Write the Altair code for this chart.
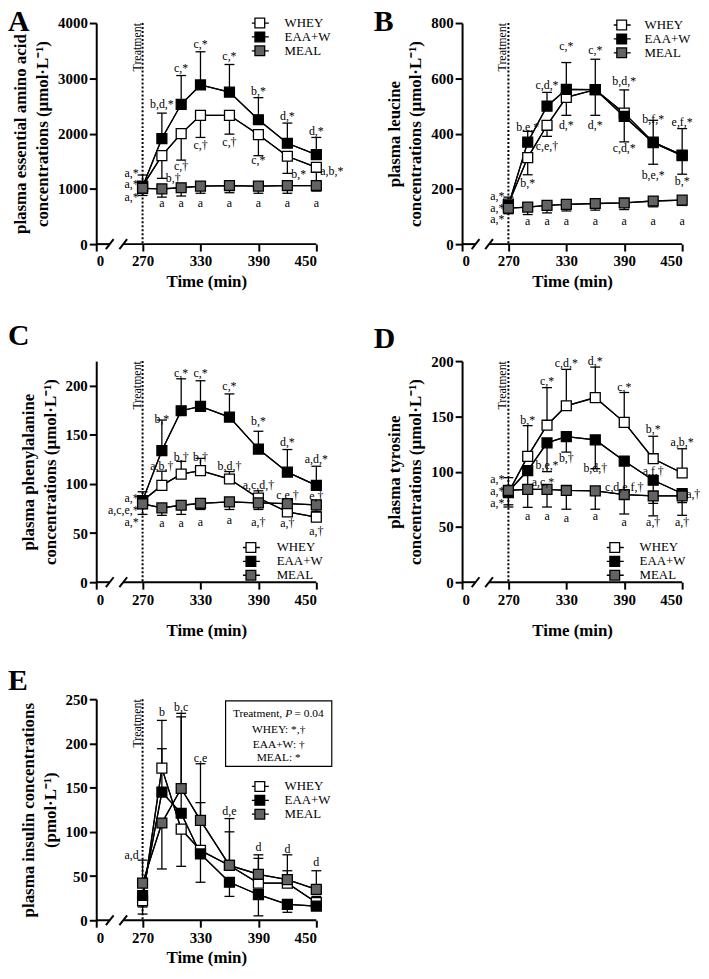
import altair as alt
import pandas as pd

FONT = "Liberation Serif"
TIMES = [270, 290, 310, 330, 360, 390, 420, 450]
SERIES = ["WHEY", "EAA+W", "MEAL"]
FILLS = ["white", "black", "#636363"]
X_TICKS = [222, 270, 330, 390, 450]      # 222 = position of "0" on the broken axis
AXIS_GAP = [236, 250]                     # broken-axis gap (x units)

# ---------------- Panel A: essential amino acids ----------------
a_whey = [1050, 1600, 2000, 2330, 2330, 1980, 1590, 1390]
a_whey_err = [1250, 1190, 1520, 1930, 1990, 1600, 1280, 1140]
a_eaa = [1040, 1910, 2530, 2880, 2750, 2250, 1825, 1620]
a_eaa_err = [950, 2370, 3050, 3480, 3250, 2650, 2190, 1930]
a_meal = [1010, 1000, 1020, 1050, 1060, 1050, 1060, 1060]
a_meal_err = [880, 850, 870, 920, 930, 920, 920, 960]
a_ann = [
    (270, 1290, "a,*", "r"), (270, 1091, "a,*", "r"), (270, 851, "a,*", "r"),
    (290, 2528, "b,d,*", "c"), (290, 1200, "b,†", "l"),
    (310, 3191, "c,*", "c"), (310, 1412, "c,†", "c"),
    (330, 3614, "c,*", "c"), (330, 1786, "c,†", "c"),
    (360, 3403, "c,*", "c"), (360, 1846, "c,†", "c"),
    (390, 2769, "b,*", "c"), (390, 1514, "c,*", "c"),
    (420, 2317, "d,*", "c"), (420, 1273, "b,*", "l"),
    (450, 2045, "d,*", "c"), (450, 1321, "a,b,*", "l"),
    (290, 736, "a", "c"), (310, 736, "a", "c"), (330, 736, "a", "c"),
    (360, 736, "a", "c"), (390, 736, "a", "c"), (420, 736, "a", "c"),
    (450, 736, "a", "c"),
]

# ---------------- Panel B: leucine ----------------
b_whey = [145, 313, 430, 531, 559, 474, 369, 322]
b_whey_err = [170, 251, 390, 466, 466, 558, 448, 418]
b_eaa = [140, 369, 499, 560, 559, 462, 367, 320]
b_eaa_err = [120, 408, 549, 657, 669, 370, 289, 253]
b_meal = [130, 134, 140, 144, 147, 149, 156, 159]
b_meal_err = [110, 107, 113, 120, 123, 125, 135, 140]
b_ann = [
    (270, 173, "a,*", "r"), (270, 131, "a,*", "r"), (270, 90, "a,*", "r"),
    (290, 425, "b.e,*", "c"), (290, 221, "b,*", "c"),
    (310, 575, "c,d,*", "c"), (310, 356, "c,e,†", "c"),
    (330, 716, "c,*", "c"), (330, 430, "d,*", "c"),
    (360, 704, "c,*", "c"), (360, 430, "d,*", "c"),
    (390, 591, "b,d,*", "c"), (390, 346, "c,d,*", "c"),
    (420, 454, "b,f,*", "c"), (420, 251, "b,e,*", "c"),
    (450, 442, "e,f,*", "c"), (450, 227, "b,*", "c"),
    (290, 84, "a", "c"), (310, 84, "a", "c"), (330, 84, "a", "c"),
    (360, 84, "a", "c"), (390, 84, "a", "c"), (420, 84, "a", "c"),
    (450, 84, "a", "c"),
]

# ---------------- Panel C: phenylalanine ----------------
c_whey = [83, 98.5, 110, 113.6, 105, 85.7, 71.6, 66.2]
c_whey_err = [92, 113, 123, 126, 112.6, 93, 78, 72]
c_eaa = [83, 134, 174.5, 179, 168, 135.5, 112, 98.5]
c_eaa_err = [75, 165, 207, 205, 191.6, 153.6, 135, 118]
c_meal = [79.7, 75.6, 78.3, 80.3, 81.7, 80.7, 80, 78.7]
c_meal_err = [69, 68, 69, 74, 74, 74, 73, 72]
c_ann = [
    (270, 85.7, "a,*", "r"), (270, 73.3, "a,c,e,*", "r"), (270, 61.5, "a,*", "r"),
    (290, 166.4, "b,*", "c"), (290, 118, "a,b,†", "c"), (290, 59.8, "a", "c"),
    (310, 212.8, "c,*", "c"), (310, 127, "b,†", "c"), (310, 59.8, "a", "c"),
    (330, 212.8, "c,*", "c"), (330, 127, "b,†", "c"), (330, 61.5, "a", "c"),
    (360, 200, "c,*", "c"), (360, 118, "b,d,†", "c"), (360, 63.2, "a", "c"),
    (390, 164, "b,*", "c"), (390, 99.2, "a,c,d,†", "c"), (390, 61.5, "a,†", "c"),
    (420, 142.2, "d,*", "c"), (420, 88.4, "c,e,†", "c"), (420, 60.2, "a,†", "c"),
    (450, 125.4, "a,d,*", "c"), (450, 87.7, "e,†", "c"), (450, 52.1, "a,†", "c"),
]

# ---------------- Panel D: tyrosine ----------------
d_whey = [81, 113.8, 142, 159.6, 167, 144.6, 111.7, 98.8]
d_whey_err = [94.6, 141.6, 176, 192.5, 194.6, 171.6, 132, 120.7]
d_eaa = [82, 101, 126, 131.7, 128.7, 109.6, 92.2, 80.2]
d_eaa_err = [70, 88, 100, 117.7, 102.7, 75.7, 71.3, 72]
d_meal = [83, 84, 84, 83, 82.6, 79.3, 78, 78]
d_meal_err = [68, 67.7, 68, 66, 66, 61.7, 60, 60.5]
d_ann = [
    (270, 93.7, "a,*", "r"), (270, 82.3, "a,*", "r"), (270, 71.3, "a,*", "r"),
    (290, 147, "b,*", "c"), (290, 90.7, "a,c,*", "l"), (290, 60.2, "a", "c"),
    (310, 182, "c,*", "c"), (310, 105.7, "b,e,*", "c"), (310, 60.2, "a", "c"),
    (330, 198, "c,d,*", "c"), (330, 112.3, "b,†", "c"), (330, 58.4, "a", "c"),
    (360, 200, "d,*", "c"), (360, 103.3, "b,d,†", "c"), (360, 60.2, "a", "c"),
    (390, 176.6, "c,*", "c"), (390, 86.2, "c,d,e,f,†", "c"), (390, 54.2, "a", "c"),
    (420, 138.6, "b,*", "c"), (420, 100.3, "a,f,†", "c"), (420, 54.2, "a,†", "c"),
    (450, 127.2, "a,b,*", "c"), (450, 79.3, "a,†", "l"), (450, 54.2, "a,†", "c"),
]

# ---------------- Panel E: insulin ----------------
e_whey = [22, 172, 103, 79, 62, 42, 42, 20]
e_whey_err = [7, 226, 61, 133, 100, 70, 56, 27]
e_eaa = [28, 145, 121, 75, 43, 29, 18, 16]
e_eaa_err = [15, 194, 230, 43, 27, 5, 9, 12]
e_meal = [42, 110, 149, 113, 62, 52, 46, 35]
e_meal_err = [68, 58, 234, 177, 115, 74, 74, 56]
e_ann = [
    (270, 73.7, "a,d", "r"), (290, 235, "b", "c"), (310, 241, "b,c", "c"),
    (330, 183, "c,e", "c"), (360, 123.4, "d,e", "c"), (390, 82.3, "d", "c"),
    (420, 80.5, "d", "c"), (450, 65.5, "d", "c"),
]
e_box_lines = ["WHEY: *,†", "EAA+W: †", "MEAL: *"]

LEG_PATH = "M-1.3,0H-0.7M0.7,0H1.3M-0.7,-0.7H0.7V0.7H-0.7Z"
W, H = 222, 223


def panel(letter, vals, errs, ann, ymax, yticks, ytitle, leg, letter_y, xtp, extra=None):
    rows = []
    for s, v, e in zip(SERIES, vals, errs):
        for t, vv, ee in zip(TIMES, v, e):
            rows.append({"time": t, "value": vv, "err": ee, "series": s})
    df = pd.DataFrame(rows)
    adf = pd.DataFrame(ann, columns=["time", "y", "text", "al"])

    xs = alt.Scale(domain=[222, 450], nice=False, zero=False)
    ys = alt.Scale(domain=[0, ymax], nice=False, zero=True)
    xax = alt.Axis(values=X_TICKS, labelExpr="datum.value == 222 ? '0' : datum.label",
                   domain=False, tickWidth=2, tickSize=7, tickColor="black",
                   labelFont=FONT, labelFontSize=15, labelFontWeight="bold", labelColor="black",
                   labelPadding=3, labelOverlap=False, titleFont=FONT, titleFontSize=17,
                   titleFontWeight="bold", titleColor="black", titlePadding=xtp, grid=False)
    yax = alt.Axis(values=yticks, format="d", domainWidth=2, domainColor="black", tickWidth=2,
                   tickSize=7, tickColor="black", labelFont=FONT, labelFontSize=15,
                   labelFontWeight="bold", labelColor="black", labelPadding=2, titleFont=FONT,
                   titleFontSize=17, titleFontWeight="bold", titleColor="black",
                   titleLineHeight=22, titlePadding=6, grid=False)
    XT = "Time (min)"

    def xf(field):
        return alt.X(field, scale=xs, axis=xax, title=XT)

    def xd(v):
        return alt.X(datum=v, type="quantitative", scale=xs, axis=xax, title=XT)

    def yf(field):
        return alt.Y(field, scale=ys, axis=yax, title=ytitle)

    def yd(v):
        return alt.Y(datum=v, type="quantitative", scale=ys, axis=yax, title=ytitle)

    base = alt.Chart(df)
    one = alt.Chart(pd.DataFrame({"k": [0]}))

    layers = []
    layers.append(base.mark_line(color="black", strokeWidth=1.3).encode(
        x=xf("time:Q"), y=yf("value:Q"), detail="series:N", order="time:Q"))
    layers.append(one.mark_rule(strokeDash=[2, 2], strokeWidth=2, color="black").encode(
        x=xd(270), y=alt.value(0), y2=alt.value(H)))
    seg = pd.DataFrame({"x0": [222, AXIS_GAP[1]], "x1": [AXIS_GAP[0], 450]})
    layers.append(alt.Chart(seg).mark_rule(strokeWidth=2, color="black").encode(
        x=xf("x0:Q"), x2="x1:Q", y=alt.value(H)))
    sl = pd.DataFrame({"x0": [AXIS_GAP[0] - 4, AXIS_GAP[1] - 4], "x1": [AXIS_GAP[0] + 4, AXIS_GAP[1] + 4]})
    layers.append(alt.Chart(sl).mark_rule(strokeWidth=2, color="black").encode(
        x=xf("x0:Q"), x2="x1:Q", y=alt.value(H + 5), y2=alt.value(H - 5)))
    layers.append(base.mark_rule(strokeWidth=1.3, color="black").encode(
        x=xf("time:Q"), y=yf("value:Q"), y2="err:Q"))
    layers.append(base.mark_tick(orient="horizontal", size=10, thickness=1.3, color="black",
                                 opacity=1).encode(x=xf("time:Q"), y=yf("err:Q")))
    layers.append(base.mark_line(color="black", strokeWidth=1.3).encode(
        x=xf("time:Q"), y=yf("value:Q"), detail="series:N", order="time:Q"))
    layers.append(base.mark_point(shape="square", filled=True, size=100, stroke="black",
                                  strokeWidth=1.3, opacity=1).encode(
        x=xf("time:Q"), y=yf("value:Q"),
        fill=alt.Fill("series:N", scale=alt.Scale(domain=SERIES, range=FILLS),
                      legend=alt.Legend(orient="none", legendX=leg[0], legendY=leg[1], title=None,
                                        direction="vertical", symbolType=LEG_PATH, symbolSize=196,
                                        symbolStrokeColor="black", symbolStrokeWidth=1.3,
                                        symbolOpacity=1, labelFont=FONT, labelFontSize=13,
                                        labelColor="black", labelOffset=leg[2], rowPadding=0,
                                        clipHeight=14, padding=0, labelLimit=0))))
    for al, align, dx in [("c", "center", 0), ("l", "left", 4), ("r", "right", -4)]:
        sub = adf[adf["al"] == al]
        if len(sub):
            layers.append(alt.Chart(sub).mark_text(font=FONT, fontSize=12, align=align, dx=dx,
                                                   baseline="middle", color="black").encode(
                x=xf("time:Q"), y=yf("y:Q"), text="text:N"))
    layers.append(one.mark_text(font=FONT, fontSize=12, angle=270, align="right",
                                baseline="alphabetic", dy=-2, color="black").encode(
        x=xd(270), y=alt.value(0), text=alt.value("Treatment")))
    layers.append(one.mark_text(font=FONT, fontSize=30, fontWeight="bold", align="left",
                                baseline="alphabetic", color="black").encode(
        x=alt.value(-89), y=alt.value(letter_y), text=alt.value(letter)))
    if extra is not None:
        layers.extend(extra(xd, yd, yf))
    return alt.layer(*layers).properties(width=W, height=H)


def e_box(xd, yd, yf):
    one = alt.Chart(pd.DataFrame({"k": [0]}))
    out = [one.mark_rect(fill="white", stroke="black", strokeWidth=1.2).encode(
        x=xd(356), x2=alt.X2(datum=466), y=yd(248), y2=alt.Y2(datum=174))]
    out.append(one.mark_text(font=FONT, fontSize=11.5, align="right", dx=3.5, color="black",
                             baseline="middle").encode(
        x=xd(411), y=yd(233.5), text=alt.value("Treatment,")))
    out.append(one.mark_text(font=FONT, fontSize=11.5, align="left", dx=6.5, color="black",
                             fontStyle="italic", baseline="middle").encode(
        x=xd(411), y=yd(233.5), text=alt.value("P")))
    out.append(one.mark_text(font=FONT, fontSize=11.5, align="left", dx=16, color="black",
                             baseline="middle").encode(
        x=xd(411), y=yd(233.5), text=alt.value("= 0.04")))
    ldf = pd.DataFrame({"t": e_box_lines, "y": [215, 198, 183]})
    out.append(alt.Chart(ldf).mark_text(font=FONT, fontSize=11.5, align="center", color="black",
                                        baseline="middle").encode(
        x=xd(411), y=yf("y:Q"), text="t:N"))
    return out


UNIT = "concentrations (µmol·L⁻¹)"
pA = panel("A", [a_whey, a_eaa, a_meal], [a_whey_err, a_eaa_err, a_meal_err], a_ann,
           4000, [0, 1000, 2000, 3000, 4000], ["plasma essential amino acid", UNIT],
           (157, -7, 17), 8, 4.5)
pB = panel("B", [b_whey, b_eaa, b_meal], [b_whey_err, b_eaa_err, b_meal_err], b_ann,
           800, [0, 200, 400, 600, 800], ["plasma leucine", UNIT],
           (153, -5, 15), 8, 4.5)
pC = panel("C", [c_whey, c_eaa, c_meal], [c_whey_err, c_eaa_err, c_meal_err], c_ann,
           225, [0, 50, 100, 150, 200], ["plasma phenylalanine", UNIT],
           (148, 181, 18), -16, 16)
pD = panel("D", [d_whey, d_eaa, d_meal], [d_whey_err, d_eaa_err, d_meal_err], d_ann,
           200, [0, 50, 100, 150, 200], ["plasma tyrosine", UNIT],
           (146, 181, 17), -13, 16)
pE = panel("E", [e_whey, e_eaa, e_meal], [e_whey_err, e_eaa_err, e_meal_err], e_ann,
           250, [0, 50, 100, 150, 200, 250], ["plasma insulin concentrations", "(pmol·L⁻¹)"],
           (157, 81, 17), -9, 4.5, extra=e_box)

chart = alt.concat(pA, pB, pC, pD, pE, columns=2, spacing={"row": 118, "column": 147},
                   bounds="flush").resolve_scale(fill="independent").resolve_legend(
    fill="independent").properties(
    padding={"top": -5, "left": 0, "right": 0, "bottom": 0}).configure(font=FONT).configure_view(
    stroke=None)

chart.save("out.html", embed_options={"renderer": "svg", "actions": False})
